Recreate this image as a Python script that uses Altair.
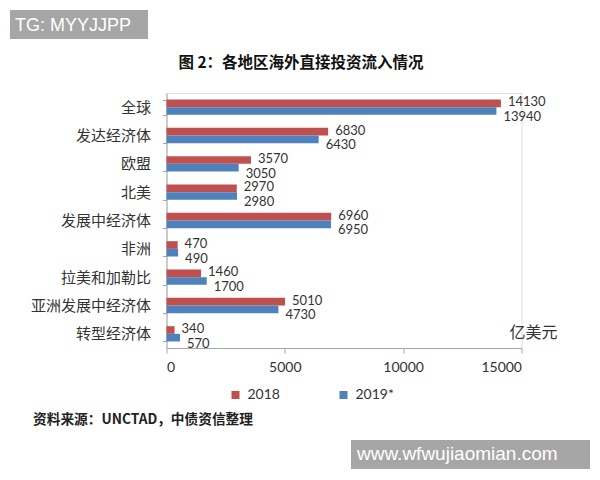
import altair as alt
import pandas as pd

categories = ["全球", "发达经济体", "欧盟", "北美", "发展中经济体", "非洲", "拉美和加勒比", "亚洲发展中经济体", "转型经济体"]
series = ["2018", "2019*"]
values_2018 = [14130, 6830, 3570, 2970, 6960, 470, 1460, 5010, 340]
values_2019 = [13940, 6430, 3050, 2980, 6950, 490, 1700, 4730, 570]
x_ticks = [0, 5000, 10000, 15000]
colors = ["#C0504D", "#4F81BD"]

rows = []
for c, a, b in zip(categories, values_2018, values_2019):
    rows.append({"region": c, "series": series[0], "value": a})
    rows.append({"region": c, "series": series[1], "value": b})
df = pd.DataFrame(rows)

W, H = 355, 255

y_enc = alt.Y("region:N", sort=categories, title=None,
              scale=alt.Scale(paddingInner=0.46, paddingOuter=0.23),
              axis=alt.Axis(labelFont="Noto Sans CJK SC", labelFontSize=15, labelColor="#333333",
                            tickBand="extent", tickSize=4, tickColor="#a6a6a6",
                            domainColor="#a6a6a6", labelPadding=12))
x_enc = alt.X("value:Q", title=None,
              scale=alt.Scale(domain=[0, 15000], nice=False),
              axis=alt.Axis(values=x_ticks, grid=False, labelFont="Lato", labelFontSize=14,
                            labelColor="#333333", tickSize=5, tickColor="#a6a6a6",
                            domainColor="#a6a6a6", labelPadding=7, format="d"))
yoff = alt.YOffset("series:N", sort=series, scale=alt.Scale(paddingInner=0, paddingOuter=0))
col_enc = alt.Color("series:N", sort=series,
                    scale=alt.Scale(domain=series, range=colors),
                    legend=alt.Legend(title=None, orient="none", direction="horizontal",
                                      legendX=62, legendY=295, symbolType="square",
                                      symbolSize=64, symbolStrokeWidth=0,
                                      labelFont="Lato", labelFontSize=14, labelColor="#333333",
                                      labelOffset=5, columnPadding=56))

base = alt.Chart(df)
bars = base.mark_bar(cornerRadius=0).encode(y=y_enc, x=x_enc, yOffset=yoff, color=col_enc)

labels_a = base.transform_filter(alt.datum.series == series[0]).mark_text(
    align="left", baseline="middle", dx=7, dy=-1, font="Lato", fontSize=13, color="#333333"
).encode(y=alt.Y("region:N", sort=categories), x="value:Q", yOffset=yoff, text="value:Q")
labels_b = base.transform_filter(alt.datum.series == series[1]).mark_text(
    align="left", baseline="middle", dx=7, dy=6, font="Lato", fontSize=13, color="#333333"
).encode(y=alt.Y("region:N", sort=categories), x="value:Q", yOffset=yoff, text="value:Q")

one = pd.DataFrame({"k": [0]})
ann = alt.Chart(one)

title = ann.mark_text(text="图 2：各地区海外直接投资流入情况", align="center", baseline="middle",
                      font="Noto Sans CJK SC", fontSize=15.5, fontWeight="bold", color="#111111"
                      ).encode(x=alt.value(134.5), y=alt.value(-30))
unit = ann.mark_text(text="亿美元", align="left", baseline="middle", font="Noto Sans CJK SC",
                     fontSize=16, color="#333333").encode(x=alt.value(343), y=alt.value(240))
source = ann.mark_text(text="资料来源：UNCTAD，中债资信整理", align="left", baseline="middle",
                       font="Noto Sans CJK SC", fontSize=13.7, fontWeight="bold", color="#222222"
                       ).encode(x=alt.value(-133.5), y=alt.value(327))
wm1_box = ann.mark_rect(color="#a6a6a6").encode(
    x=alt.value(-156.5), x2=alt.value(-18.5), y=alt.value(-83), y2=alt.value(-54))
wm1_txt = ann.mark_text(text="TG: MYYJJPP", align="left", baseline="middle", font="Liberation Sans",
                        fontSize=18, color="white").encode(x=alt.value(-151.5), y=alt.value(-67))
wm2_box = ann.mark_rect(color="#a6a6a6").encode(
    x=alt.value(184.5), x2=alt.value(423.5), y=alt.value(347), y2=alt.value(376))
wm2_txt = ann.mark_text(text="www.wfwujiaomian.com", align="left", baseline="middle",
                        font="Liberation Sans", fontSize=19, color="white"
                        ).encode(x=alt.value(190.5), y=alt.value(361))

chart = alt.layer(bars, labels_a, labels_b, title, unit, source, wm1_box, wm1_txt, wm2_box, wm2_txt).properties(
    width=W, height=H,
    autosize=alt.AutoSizeParams(type="none"),
    padding={"left": 158.5, "top": 85, "right": 70.5, "bottom": 124},
).configure_view(stroke=None).configure(background="white")

chart.save("out.html", embed_options={"renderer": "svg", "actions": False})
